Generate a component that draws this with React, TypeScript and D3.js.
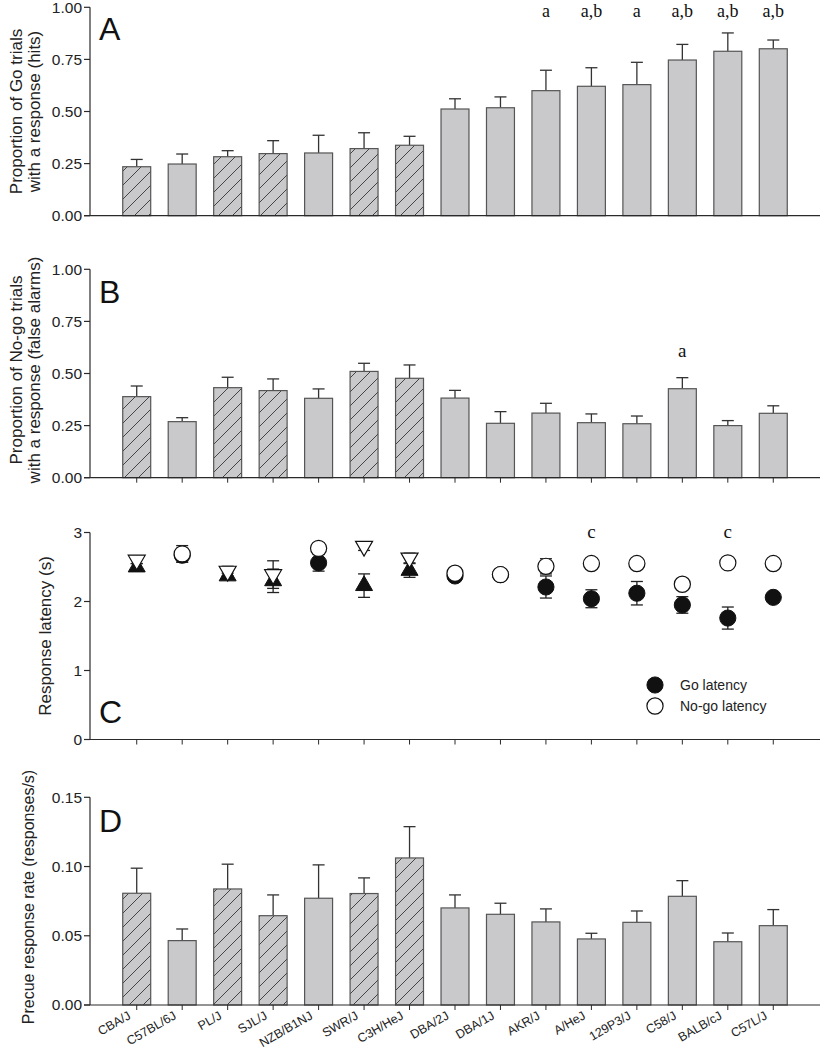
import React from "react";
import * as d3 from "d3";

const strains = ["CBA/J","C57BL/6J","PL/J","SJL/J","NZB/B1NJ","SWR/J","C3H/HeJ","DBA/2J","DBA/1J","AKR/J","A/HeJ","129P3/J","C58/J","BALB/cJ","C57L/J"];
const hatched = [true,false,true,true,false,true,true,false,false,false,false,false,false,false,false];

const hitsMean = [0.235,0.248,0.283,0.298,0.301,0.322,0.338,0.512,0.518,0.600,0.621,0.629,0.747,0.789,0.801];
const hitsErr = [0.035,0.048,0.029,0.062,0.085,0.076,0.043,0.049,0.052,0.098,0.089,0.107,0.075,0.088,0.042];
const hitsSig = ["","","","","","","","","","a","a,b","a","a,b","a,b","a,b"];

const faMean = [0.389,0.269,0.432,0.418,0.381,0.510,0.477,0.382,0.261,0.310,0.264,0.259,0.427,0.250,0.309];
const faErr = [0.051,0.019,0.050,0.056,0.045,0.039,0.064,0.037,0.056,0.047,0.042,0.037,0.053,0.024,0.036];
const faSig = ["","","","","","","","","","","","","a","",""];

const goLat = [2.50,2.67,2.37,2.30,2.56,2.23,2.45,2.37,2.39,2.21,2.04,2.12,1.95,1.76,2.06];
const goLatErr = [0.05,0.10,0.04,0.17,0.12,0.17,0.10,0.03,0.03,0.16,0.13,0.17,0.12,0.16,0.03];
const nogoLat = [2.60,2.69,2.44,2.39,2.77,2.80,2.63,2.41,2.39,2.51,2.55,2.55,2.25,2.56,2.55];
const nogoLatErr = [0.05,0.12,0.07,0.20,0.05,0.06,0.07,0.03,0.03,0.11,0.04,0.05,0.04,0.04,0.04];
const latSig = ["","","","","","","","","","","c","","","c",""];

const precueMean = [0.0807,0.0465,0.0838,0.0645,0.0771,0.0805,0.1062,0.0701,0.0655,0.0600,0.0477,0.0597,0.0785,0.0457,0.0573];
const precueErr = [0.0181,0.0084,0.0179,0.0150,0.0241,0.0113,0.0226,0.0094,0.0080,0.0094,0.0041,0.0082,0.0113,0.0063,0.0116];

const propTicks = [0, 0.25, 0.5, 0.75, 1];
const latTicks = [0, 1, 2, 3];
const precueTicks = [0, 0.05, 0.1, 0.15];

const SANS = "'Liberation Sans', Arial, sans-serif";
const SERIF = "'Liberation Serif', 'Times New Roman', serif";
const AX = 90;
const XEND = 820;
const AXC = "#2a2a2a";
const BAR_FILL = "#c9c9cb";
const BAR_STROKE = "#555";

const x = d3.scaleBand<string>().domain(strains).range([AX, XEND]).paddingInner(0.385).paddingOuter(0.72);
const cx = (s: string) => (x(s) as number) + x.bandwidth() / 2;

const yA = d3.scaleLinear().domain([0, 1]).range([215.7, 7.3]);
const yB = d3.scaleLinear().domain([0, 1]).range([477.7, 269.3]);
const yC = d3.scaleLinear().domain([0, 3]).range([739.5, 532.5]);
const yD = d3.scaleLinear().domain([0, 0.15]).range([1005, 797.3]);

function YAxis({ y, ticks, fmt }: { y: d3.ScaleLinear<number, number>; ticks: number[]; fmt: (v: number) => string }) {
  const [d0, d1] = y.domain();
  return (
    <g>
      <line x1={AX} x2={AX} y1={y(d0)} y2={y(d1)} stroke={AXC} strokeWidth={1.2} />
      {ticks.map((t) => (
        <g key={t}>
          <line x1={AX - 6} x2={AX} y1={y(t)} y2={y(t)} stroke={AXC} strokeWidth={1.2} />
          <text x={AX - 8} y={y(t)} dy="0.35em" textAnchor="end" fontFamily={SANS} fontSize={15.5} fill="#222">
            {fmt(t)}
          </text>
        </g>
      ))}
    </g>
  );
}

function XAxis({ y, ticks }: { y: d3.ScaleLinear<number, number>; ticks: boolean }) {
  const y0 = y(0);
  return (
    <g>
      <line x1={AX - 6} x2={XEND} y1={y0} y2={y0} stroke={AXC} strokeWidth={1.2} />
      {ticks && strains.map((s) => (
        <line key={s} x1={cx(s)} x2={cx(s)} y1={y0} y2={y0 + 5} stroke={AXC} strokeWidth={1} />
      ))}
    </g>
  );
}

function Bars({ y, mean, err }: { y: d3.ScaleLinear<number, number>; mean: number[]; err: number[] }) {
  const y0 = y(0);
  return (
    <g>
      {strains.map((s, i) => {
        const c = cx(s);
        const top = y(mean[i]);
        const et = y(mean[i] + err[i]);
        return (
          <g key={s}>
            <line x1={c} x2={c} y1={top} y2={et} stroke="#333" strokeWidth={1.3} />
            <line x1={c - 6} x2={c + 6} y1={et} y2={et} stroke="#333" strokeWidth={1.3} />
            <rect x={x(s)} y={top} width={x.bandwidth()} height={y0 - top}
              fill={hatched[i] ? "url(#hatch)" : BAR_FILL} stroke={BAR_STROKE} strokeWidth={1.2} />
          </g>
        );
      })}
    </g>
  );
}

function SigLabels({ labels, yPos, size }: { labels: string[]; yPos: number; size: number }) {
  return (
    <g>
      {strains.map((s, i) => labels[i] ? (
        <text key={s} x={cx(s)} y={yPos} textAnchor="middle" fontFamily={SERIF} fontSize={size} fill="#111">{labels[i]}</text>
      ) : null)}
    </g>
  );
}

function YTitle({ lines, xs, cy, size }: { lines: string[]; xs: number[]; cy: number; size: number }) {
  return (
    <g>
      {lines.map((l, i) => (
        <text key={i} transform={`translate(${xs[i]},${cy}) rotate(-90)`} textAnchor="middle" fontFamily={SANS} fontSize={size} fill="#222">{l}</text>
      ))}
    </g>
  );
}

function PanelLetter({ letter, px, py }: { letter: string; px: number; py: number }) {
  return <text x={px} y={py} fontFamily={SANS} fontSize={32} fill="#111">{letter}</text>;
}

const triSym = d3.symbol().type(d3.symbolTriangle).size(125);
const circSym = d3.symbol().type(d3.symbolCircle).size(205);

function Latency() {
  const y = yC;
  return (
    <g>
      {strains.map((s, i) => {
        const c = cx(s);
        const eb = (m: number, e: number, k: string) => (
          <g key={k}>
            <line x1={c} x2={c} y1={y(m - e)} y2={y(m + e)} stroke="#222" strokeWidth={1.3} />
            <line x1={c - 6} x2={c + 6} y1={y(m + e)} y2={y(m + e)} stroke="#222" strokeWidth={1.3} />
            <line x1={c - 6} x2={c + 6} y1={y(m - e)} y2={y(m - e)} stroke="#222" strokeWidth={1.3} />
          </g>
        );
        return (
          <g key={s}>
            {eb(goLat[i], goLatErr[i], "g")}
            {eb(nogoLat[i], nogoLatErr[i], "n")}
          </g>
        );
      })}
      {strains.map((s, i) => {
        const c = cx(s);
        return hatched[i] ? (
          <path key={s} d={triSym() as string} transform={`translate(${c},${y(goLat[i])})`} fill="#111" stroke="#111" strokeWidth={1} />
        ) : (
          <path key={s} d={circSym() as string} transform={`translate(${c},${y(goLat[i])})`} fill="#111" stroke="#111" strokeWidth={1} />
        );
      })}
      {strains.map((s, i) => {
        const c = cx(s);
        return hatched[i] ? (
          <path key={s} d={triSym() as string} transform={`translate(${c},${y(nogoLat[i])}) rotate(180)`} fill="#fff" stroke="#111" strokeWidth={1.2} />
        ) : (
          <path key={s} d={circSym() as string} transform={`translate(${c},${y(nogoLat[i])})`} fill="#fff" stroke="#111" strokeWidth={1.2} />
        );
      })}
      <g>
        <path d={circSym() as string} transform="translate(655,685)" fill="#111" stroke="#111" />
        <text x={680} y={685} dy="0.35em" fontFamily={SANS} fontSize={14} fill="#222">Go latency</text>
        <path d={circSym() as string} transform="translate(655,706)" fill="#fff" stroke="#111" strokeWidth={1.2} />
        <text x={680} y={706} dy="0.35em" fontFamily={SANS} fontSize={14} fill="#222">No-go latency</text>
      </g>
    </g>
  );
}

export default function App() {
  const f2 = d3.format(".2f");
  const f0 = d3.format("d");
  const y0D = yD(0);
  return (
    <svg width={820} height={1050} style={{ position: "absolute", left: 0, top: 0, background: "#fff" }}>
      <defs>
        <pattern id="hatch" patternUnits="userSpaceOnUse" width={14} height={14}>
          <rect width={14} height={14} fill={BAR_FILL} />
          <path d="M-1,1 l2,-2 M0,14 l14,-14 M13,15 l2,-2" stroke="#444" strokeWidth={1} />
        </pattern>
      </defs>

      {/* Panel A */}
      <Bars y={yA} mean={hitsMean} err={hitsErr} />
      <XAxis y={yA} ticks={false} />
      <YAxis y={yA} ticks={propTicks} fmt={f2} />
      <SigLabels labels={hitsSig} yPos={17} size={18} />
      <PanelLetter letter="A" px={99} py={40} />
      <YTitle lines={["Proportion of Go trials", "with a response (hits)"]} xs={[22, 40]} cy={111.5} size={17} />

      {/* Panel B */}
      <Bars y={yB} mean={faMean} err={faErr} />
      <XAxis y={yB} ticks={true} />
      <YAxis y={yB} ticks={propTicks} fmt={f2} />
      <SigLabels labels={faSig} yPos={357} size={19} />
      <PanelLetter letter="B" px={99} py={303} />
      <YTitle lines={["Proportion of No-go trials", "with a response (false alarms)"]} xs={[22, 40]} cy={370} size={17} />

      {/* Panel C */}
      <XAxis y={yC} ticks={true} />
      <YAxis y={yC} ticks={latTicks} fmt={f0} />
      <Latency />
      <SigLabels labels={latSig} yPos={538} size={19} />
      <PanelLetter letter="C" px={99} py={723} />
      <YTitle lines={["Response latency (s)"]} xs={[51]} cy={636} size={17} />

      {/* Panel D */}
      <Bars y={yD} mean={precueMean} err={precueErr} />
      <XAxis y={yD} ticks={true} />
      <YAxis y={yD} ticks={precueTicks} fmt={f2} />
      <PanelLetter letter="D" px={99} py={832} />
      <YTitle lines={["Precue response rate (responses/s)"]} xs={[34]} cy={897} size={16} />
      {strains.map((s) => (
        <text key={s} transform={`translate(${cx(s) - 5},${y0D + 13}) rotate(-30)`} textAnchor="end" fontFamily={SANS} fontSize={12.5} fill="#222">{s}</text>
      ))}
    </svg>
  );
}
